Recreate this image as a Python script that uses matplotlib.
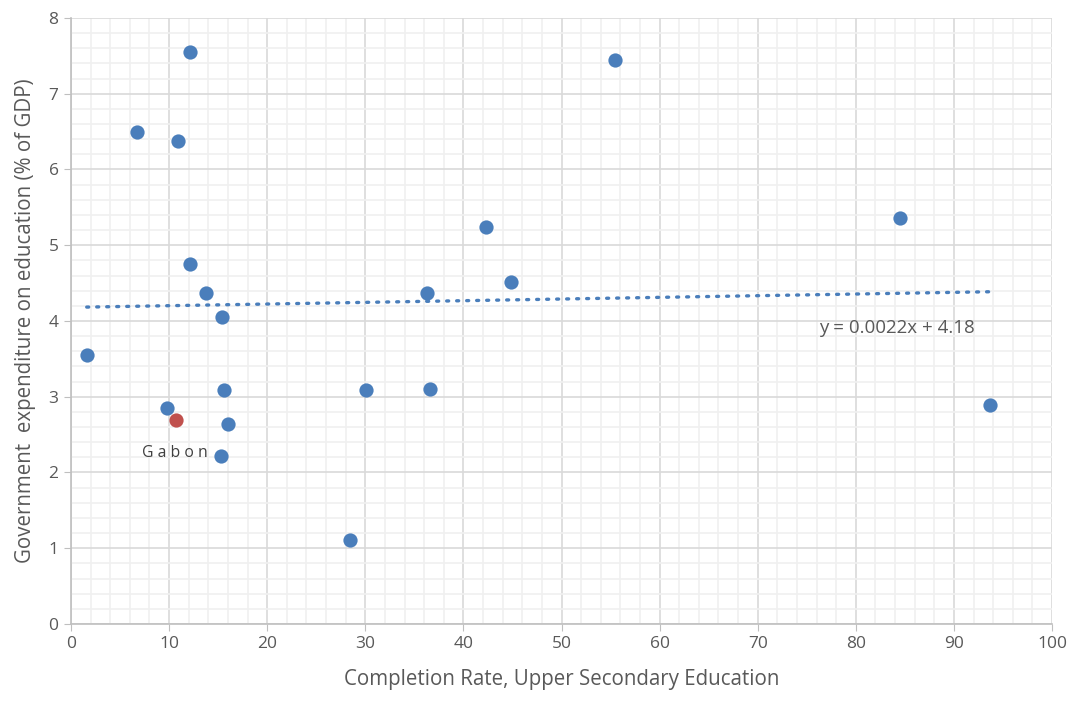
import matplotlib
matplotlib.use("Agg")
import matplotlib.pyplot as plt
import numpy as np
from matplotlib.ticker import MultipleLocator

# completion rate (x) and government expenditure on education (y)
completion = [12.1, 6.7, 10.9, 12.1, 13.8, 15.4, 1.6, 15.6, 9.8, 16.0, 15.3,
              28.4, 30.1, 36.6, 36.3, 42.3, 44.9, 55.5, 84.5, 93.7]
expenditure = [7.55, 6.49, 6.37, 4.75, 4.37, 4.05, 3.55, 3.09, 2.85, 2.64, 2.22,
               1.11, 3.09, 3.10, 4.37, 5.24, 4.51, 7.45, 5.36, 2.89]
gabon_x = [10.7]
gabon_y = [2.69]

# trendline as given by the label
slope = 0.0022
intercept = 4.18

blue = "#4A7EBB"
red = "#C0504D"
txt = "#595959"

plt.rcParams['font.family'] = ['Open Sans', 'DejaVu Sans']

fig = plt.figure(figsize=(10.76, 7.03), dpi=100)
ax = fig.add_axes([0.066, 0.1124, 0.9117, 0.862])

all_x = completion + gabon_x
xs = np.array([min(all_x), max(all_x)])
ax.plot(xs, slope * xs + intercept, color=blue, lw=2.4, linestyle=(0, (0.6, 2.4)),
        dash_capstyle="round", zorder=2)

ax.scatter(completion, expenditure, s=105, color=blue, zorder=3, linewidths=0)
ax.scatter(gabon_x, gabon_y, s=105, color=red, zorder=3, linewidths=0)

ax.text(13.9, 2.26, "G a b o n", ha="right", va="center", fontsize=11.3, color="#404040")
ax.text(76.3, 3.91, "y = 0.0022x + 4.18", ha="left", va="center", fontsize=13.5, color=txt)

ax.set_xlim(0, 100)
ax.set_ylim(0, 8)
ax.xaxis.set_major_locator(MultipleLocator(10))
ax.xaxis.set_minor_locator(MultipleLocator(2))
ax.yaxis.set_major_locator(MultipleLocator(1))
ax.yaxis.set_minor_locator(MultipleLocator(0.2))

ax.grid(which="major", color="#D9D9D9", lw=1.2, zorder=0)
ax.grid(which="minor", color="#F0F0F0", lw=1.2, zorder=0)
ax.set_axisbelow(True)

for side in ["top", "right"]:
    ax.spines[side].set_visible(False)
for side in ["left", "bottom"]:
    ax.spines[side].set_color("#BFBFBF")
    ax.spines[side].set_linewidth(1.2)

ax.tick_params(which="major", length=5, color="#BFBFBF", labelsize=12.5, labelcolor=txt, pad=4)
ax.tick_params(which="minor", length=0)

ax.set_xlabel("Completion Rate, Upper Secondary Education", fontsize=14.8, color=txt, labelpad=12)
ax.set_ylabel("Government  expenditure on education (% of GDP)", fontsize=14.8, color=txt, labelpad=9)

fig.savefig("out.png", dpi=100)
